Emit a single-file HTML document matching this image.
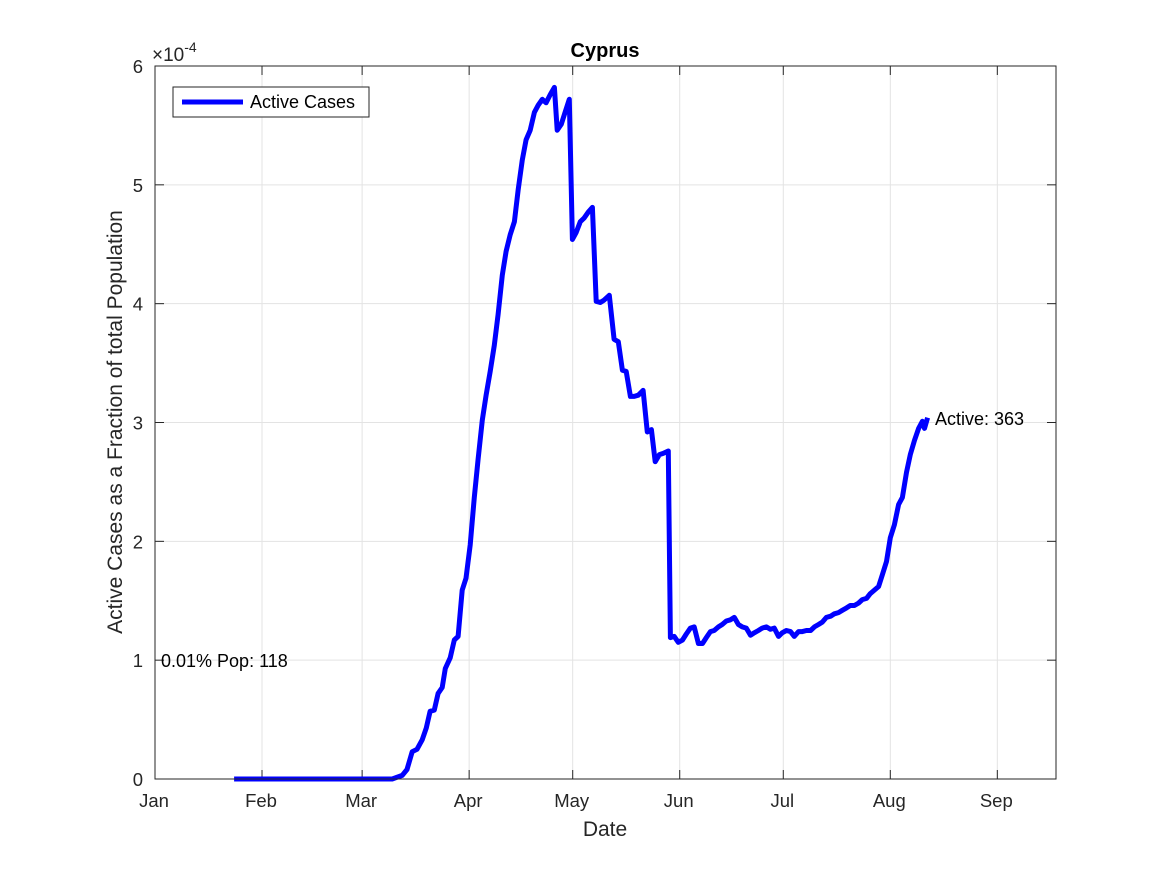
<!DOCTYPE html>
<html><head><meta charset="utf-8"><style>
body{margin:0;background:#fff;font-family:"Liberation Sans",sans-serif}
svg text{font-family:"Liberation Sans",sans-serif}
</style></head><body>
<svg id="chart" width="1167" height="875" xmlns="http://www.w3.org/2000/svg">
<rect width="1167" height="875" fill="#fff"/>
<g id="grid"></g><g id="ticks"></g><g id="series"></g>
<rect x="155" y="66" width="901" height="713" fill="none" stroke="#262626" stroke-width="1"/>
<text x="605" y="57" text-anchor="middle" font-size="20" font-weight="bold">Cyprus</text>
<text x="605" y="836" text-anchor="middle" font-size="21" fill="#262626">Date</text>
<text transform="translate(122,422) rotate(-90)" text-anchor="middle" font-size="21" fill="#262626">Active Cases as a Fraction of total Population</text>
<text x="152" y="61" font-size="19" fill="#262626">×10<tspan dy="-9" font-size="14">-4</tspan></text>
<g>
<rect x="173" y="87" width="196" height="30" fill="#fff" stroke="#262626" stroke-width="1"/>
<line x1="182" y1="102" x2="243" y2="102" stroke="#0000ff" stroke-width="5"/>
<text x="250" y="108" font-size="18">Active Cases</text>
</g>
<text x="935" y="425" font-size="18">Active: 363</text>
<text x="161" y="667" font-size="18">0.01% Pop: 118</text>
</svg>
<script>
const monthLabels=["Jan","Feb","Mar","Apr","May","Jun","Jul","Aug","Sep"];
const monthDays=[0,31,60,91,121,152,182,213,244];
const yTicks=[0,1,2,3,4,5,6];
const days=[22.9,68.7,71.6,73.0,74.5,75.9,77.4,78.6,79.7,80.9,82.0,83.2,84.1,85.5,86.7,87.8,89.0,90.1,91.3,92.5,93.6,94.8,95.9,97.1,98.3,99.4,100.6,101.7,102.9,104.1,105.2,106.4,107.5,108.7,109.9,111.0,112.2,113.3,114.5,115.7,116.5,117.7,118.8,120.0,120.9,122.0,123.2,124.3,125.5,126.7,127.8,129.0,130.1,131.6,133.0,134.2,135.4,136.5,137.7,138.8,140.0,141.4,142.6,143.8,144.9,146.1,147.2,148.7,149.3,150.4,151.6,152.8,153.9,155.1,156.2,157.4,158.6,159.7,160.9,162.0,163.2,164.3,165.5,166.7,167.8,169.0,170.1,171.3,172.5,173.6,174.8,175.9,177.1,178.3,179.4,180.6,181.7,182.9,184.1,185.2,186.4,187.5,188.7,189.9,191.0,192.2,193.3,194.5,195.7,196.8,198.0,199.1,200.3,201.4,202.6,203.8,204.9,206.1,207.2,208.4,209.6,210.7,211.9,213.0,214.2,215.4,216.5,217.7,218.8,220.0,221.2,222.3,222.9,223.8];
const activeFrac=[0,0,0.03,0.08,0.23,0.25,0.33,0.43,0.57,0.58,0.72,0.77,0.93,1.02,1.17,1.20,1.59,1.69,1.97,2.37,2.69,3.02,3.23,3.43,3.65,3.91,4.24,4.44,4.58,4.69,4.96,5.21,5.38,5.46,5.61,5.67,5.72,5.69,5.76,5.82,5.46,5.51,5.61,5.72,4.54,4.60,4.69,4.72,4.77,4.81,4.02,4.01,4.03,4.07,3.70,3.68,3.44,3.43,3.22,3.22,3.23,3.27,2.92,2.94,2.67,2.73,2.74,2.76,1.19,1.20,1.15,1.17,1.22,1.27,1.28,1.14,1.14,1.19,1.24,1.25,1.28,1.30,1.33,1.34,1.36,1.30,1.28,1.27,1.21,1.23,1.25,1.27,1.28,1.26,1.27,1.20,1.23,1.25,1.24,1.20,1.24,1.24,1.25,1.25,1.28,1.30,1.32,1.36,1.37,1.39,1.40,1.42,1.44,1.46,1.46,1.48,1.51,1.52,1.56,1.59,1.62,1.72,1.83,2.03,2.14,2.31,2.37,2.58,2.73,2.85,2.95,3.01,2.95,3.04];
const NS="http://www.w3.org/2000/svg";
const L=155,R=1056,T=66,B=779;
function xs(d){return L+d*(R-L)/261;}
function ys(v){return B-v*(B-T)/6;}
const grid=document.getElementById('grid'),ticks=document.getElementById('ticks'),series=document.getElementById('series');
function mk(tag,attrs,parent){const e=document.createElementNS(NS,tag);for(const k in attrs)e.setAttribute(k,attrs[k]);parent.appendChild(e);return e;}
monthDays.forEach((d,i)=>{
  const x=xs(d);
  const g=mk('line',{x1:x,x2:x,y1:T,y2:B,stroke:'#e3e3e3','stroke-width':1},grid);
  
  
  mk('line',{x1:x,x2:x,y1:B,y2:B-9,stroke:'#262626'},ticks);
  mk('line',{x1:x,x2:x,y1:T,y2:T+9,stroke:'#262626'},ticks);
  const t=mk('text',{x:x-1,y:807,'text-anchor':'middle','font-size':18.5,fill:'#262626'},ticks);
  t.textContent=monthLabels[i];
  
  
});
yTicks.forEach(v=>{
  const y=ys(v);
  const g=mk('line',{x1:L,x2:R,y1:y,y2:y,stroke:'#e3e3e3','stroke-width':1},grid);
  
  
  mk('line',{x1:L,x2:L+9,y1:y,y2:y,stroke:'#262626'},ticks);
  mk('line',{x1:R,x2:R-9,y1:y,y2:y,stroke:'#262626'},ticks);
  const t=mk('text',{x:143,y:y+7,'text-anchor':'end','font-size':18.5,fill:'#262626'},ticks);
  t.textContent=v;
  
  
});
const pts=days.map((d,i)=>xs(d).toFixed(1)+','+ys(activeFrac[i]).toFixed(1)).join(' ');
const line=mk('polyline',{points:pts,fill:'none',stroke:'#0000ff','stroke-width':5,'stroke-linejoin':'round'},series);


</script>
</body></html>
